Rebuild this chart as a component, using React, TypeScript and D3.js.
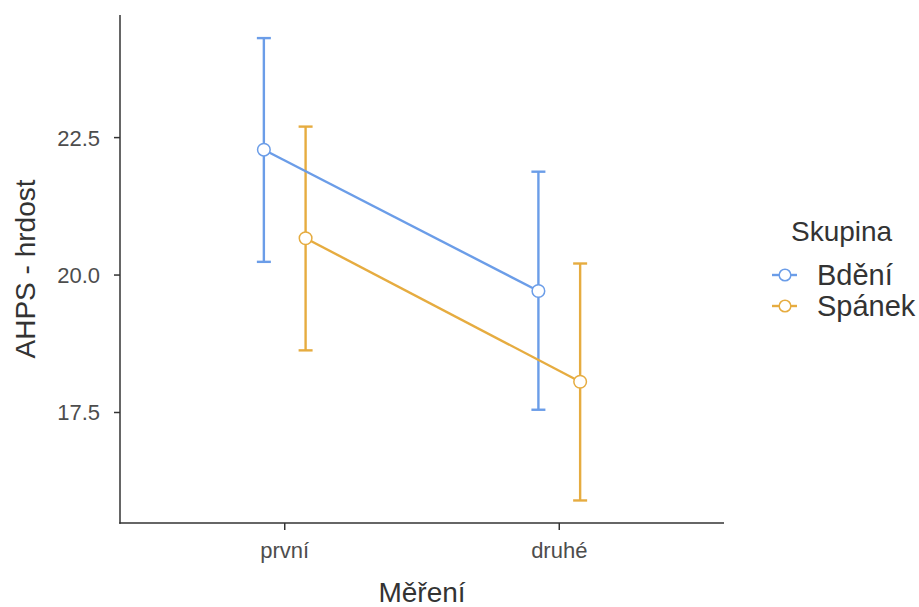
import React from 'react'
import * as d3 from 'd3'

// measurement occasions and groups
const measures = ['první', 'druhé']
const groups = ['Bdění', 'Spánek']
const groupColors = ['#6B9DE8', '#E6AC40']

// means with confidence interval bounds, per group
const bdeniMean = [22.28, 19.71]
const bdeniLower = [20.24, 17.55]
const bdeniUpper = [24.31, 21.88]
const spanekMean = [20.67, 18.06]
const spanekLower = [18.63, 15.9]
const spanekUpper = [22.7, 20.21]

const yTicks = [17.5, 20.0, 22.5]

const font = '"Liberation Sans", Arial, sans-serif'

const App = () => {
  const svgWidth = 919
  const svgHeight = 607
  const margin = { top: 15, right: 195, bottom: 84, left: 120 }
  const width = svgWidth - margin.left - margin.right
  const height = svgHeight - margin.top - margin.bottom

  const x = d3.scalePoint<string>().domain(measures).range([0, width]).padding(0.6)
  const y = d3.scaleLinear().domain([15.49, 24.73]).range([height, 0])
  const dodge = x.step() * 0.076

  const series = [
    { name: groups[0], color: groupColors[0], mean: bdeniMean, lo: bdeniLower, hi: bdeniUpper, off: -dodge },
    { name: groups[1], color: groupColors[1], mean: spanekMean, lo: spanekLower, hi: spanekUpper, off: dodge },
  ]

  const line = d3.line<[string, number]>()
    .x((d) => x(d[0])!)
    .y((d) => y(d[1]))

  const cap = 7

  return (
    <svg width={svgWidth} height={svgHeight} style={{ position: 'absolute', left: 0, top: 0, background: '#fff' }}>
      <g transform={`translate(${margin.left},${margin.top})`}>
        {/* error bars */}
        {series.map((s) =>
          measures.map((m, i) => {
            const cx = x(m)! + s.off
            return (
              <g key={s.name + m} stroke={s.color} strokeWidth={2.4} fill="none">
                <line x1={cx} x2={cx} y1={y(s.lo[i])} y2={y(s.hi[i])} />
                <line x1={cx - cap} x2={cx + cap} y1={y(s.lo[i])} y2={y(s.lo[i])} />
                <line x1={cx - cap} x2={cx + cap} y1={y(s.hi[i])} y2={y(s.hi[i])} />
              </g>
            )
          })
        )}
        {/* lines */}
        {series.map((s) => (
          <path
            key={s.name}
            transform={`translate(${s.off},0)`}
            d={line(measures.map((m, i) => [m, s.mean[i]]))!}
            fill="none"
            stroke={s.color}
            strokeWidth={2.4}
          />
        ))}
        {/* points */}
        {series.map((s) =>
          measures.map((m, i) => (
            <circle key={s.name + m} cx={x(m)! + s.off} cy={y(s.mean[i])} r={6.3} fill="#fff" stroke={s.color} strokeWidth={1.5} />
          ))
        )}

        {/* y axis */}
        <line x1={0} x2={0} y1={0} y2={height + 0.75} stroke="#333" strokeWidth={1.5} />
        {yTicks.map((t) => (
          <g key={t} transform={`translate(0,${y(t)})`}>
            <line x1={-6} x2={0} stroke="#333" strokeWidth={1.5} />
            <text x={-20} dy="0.36em" textAnchor="end" fontFamily={font} fontSize={22} fill="#4d4d4d">
              {t.toFixed(1)}
            </text>
          </g>
        ))}
        {/* x axis */}
        <line x1={-0.75} x2={width} y1={height} y2={height} stroke="#333" strokeWidth={1.5} />
        {measures.map((m) => (
          <g key={m} transform={`translate(${x(m)},${height})`}>
            <line y1={0} y2={7} stroke="#333" strokeWidth={1.5} />
            <text y={35} textAnchor="middle" fontFamily={font} fontSize={22} fill="#4d4d4d">
              {m}
            </text>
          </g>
        ))}

        <text x={width / 2} y={height + 79} textAnchor="middle" fontFamily={font} fontSize={28} fill="#333">
          Měření
        </text>
        <text
          transform={`translate(${35 - margin.left},${height / 2}) rotate(-90)`}
          textAnchor="middle"
          fontFamily={font}
          fontSize={28}
          fill="#333"
        >
          AHPS - hrdost
        </text>
      </g>

      {/* legend */}
      <g transform="translate(791,241)">
        <text x={0} y={0} fontFamily={font} fontSize={28} fill="#333">
          Skupina
        </text>
        {series.map((s, i) => (
          <g key={s.name} transform={`translate(0,${34 + i * 31})`}>
            <line x1={-19} x2={6} y1={0} y2={0} stroke={s.color} strokeWidth={2.4} />
            <circle cx={-6} cy={0} r={5.8} fill="#fff" stroke={s.color} strokeWidth={1.5} />
            <text x={26} dy="0.35em" fontFamily={font} fontSize={29} fill="#333">
              {s.name}
            </text>
          </g>
        ))}
      </g>
    </svg>
  )
}

export default App
